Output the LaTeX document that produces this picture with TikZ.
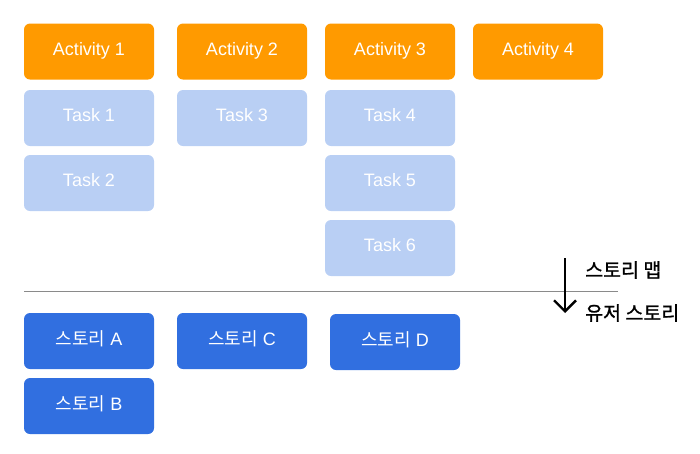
\documentclass[tikz,border=0pt]{standalone}
\usepackage{fontspec}
\usetikzlibrary{arrows.meta}
\setmainfont{Liberation Sans}
\newfontfamily\kr{Noto Sans CJK KR}
\newfontfamily\krbold[FakeBold=1.2]{Noto Sans CJK KR}
\definecolor{actorange}{HTML}{FF9A00}
\definecolor{tasklight}{HTML}{B9CFF4}
\definecolor{storyblue}{HTML}{316FE0}
\definecolor{divgray}{HTML}{8A8A8A}
\tikzset{
  card/.style={rounded corners=6pt, minimum width=130pt, minimum height=56pt, inner sep=0pt, text=white},
  cardtext/.style={font=\fontsize{18}{21}\selectfont, text=white, inner sep=0pt},
  activity/.style={card, fill=actorange},
  taskcard/.style={card, fill=tasklight},
  story/.style={card, fill=storyblue},
  lbl/.style={font=\krbold\fontsize{19.5}{22}\selectfont, anchor=west, inner sep=0pt}
}
\begin{document}
\begin{tikzpicture}[x=1pt,y=-1pt]
\useasboundingbox (0,0) rectangle (700,453);
\node[activity] (a1) at (89,51.5) {};
\node[activity] (a2) at (242,51.5) {};
\node[activity] (a3) at (390,51.5) {};
\node[activity] (a4) at (538,51.5) {};
\node[taskcard] (t1) at (89,118) {};
\node[taskcard] (t2) at (89,183) {};
\node[taskcard] (t3) at (242,118) {};
\node[taskcard] (t4) at (390,118) {};
\node[taskcard] (t5) at (390,183) {};
\node[taskcard] (t6) at (390,248) {};
\node[story] (sa) at (89,341) {};
\node[story] (sb) at (89,406) {};
\node[story] (sc) at (242,341) {};
\node[story] (sd) at (395,342) {};
\node[cardtext] (a1t) at ([yshift=1pt]a1.center) {Activity 1};
\node[cardtext] (a2t) at ([yshift=1pt]a2.center) {Activity 2};
\node[cardtext] (a3t) at ([yshift=1pt]a3.center) {Activity 3};
\node[cardtext] (a4t) at ([yshift=1pt]a4.center) {Activity 4};
\node[cardtext] (t1t) at ([yshift=2.5pt]t1.center) {Task 1};
\node[cardtext] (t2t) at ([yshift=2.5pt]t2.center) {Task 2};
\node[cardtext] (t3t) at ([yshift=2.5pt]t3.center) {Task 3};
\node[cardtext] (t4t) at ([yshift=2.5pt]t4.center) {Task 4};
\node[cardtext] (t5t) at ([yshift=2.5pt]t5.center) {Task 5};
\node[cardtext] (t6t) at ([yshift=2.5pt]t6.center) {Task 6};
\node[cardtext] (sat) at ([yshift=2.5pt]sa.center) {{\kr 스토리} A};
\node[cardtext] (sbt) at ([yshift=2.5pt]sb.center) {{\kr 스토리} B};
\node[cardtext] (sct) at ([yshift=2.5pt]sc.center) {{\kr 스토리} C};
\node[cardtext] (sdt) at ([yshift=2.5pt]sd.center) {{\kr 스토리} D};
\coordinate (ls) at (24,291);
\coordinate (le) at (618,291);
\draw[divgray, line width=0.8pt] (ls) -- (le);
\coordinate (ar1) at (565,258);
\coordinate (ar2) at (565,313);
\draw[line width=2.4pt, -{Straight Barb[length=11pt,width=22pt,line width=2.4pt]}] (ar1) -- (ar2);
\node[lbl] (map) at (585,270) {스토리 맵};
\node[lbl] (us) at (585,313) {유저 스토리};
\end{tikzpicture}
\end{document}
